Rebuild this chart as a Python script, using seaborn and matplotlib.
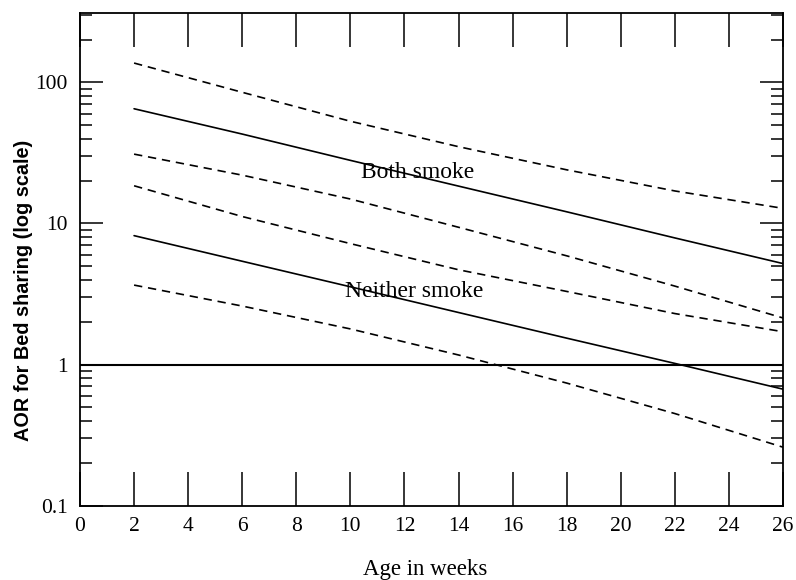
import numpy as np
import pandas as pd
import matplotlib
matplotlib.use('Agg')
import matplotlib.pyplot as plt
import seaborn as sns
from matplotlib.ticker import LogLocator, FixedLocator, NullFormatter, FuncFormatter

# ---- data ----
weeks = [2, 6, 10, 14, 18, 22, 26]

both_aor = [65, 43, 28, 18.4, 12.1, 7.9, 5.2]
both_upper = [137, 85, 53, 35, 24, 17, 12.8]
both_lower = [31, 22, 14.9, 9.4, 5.9, 3.6, 2.14]

neither_aor = [8.2, 5.4, 3.56, 2.34, 1.54, 1.02, 0.67]
neither_upper = [18.5, 11.2, 7.2, 4.7, 3.3, 2.3, 1.71]
neither_lower = [3.66, 2.6, 1.79, 1.17, 0.74, 0.45, 0.26]

x_ticks = list(range(0, 27, 2))
y_ticks = [0.1, 1, 10, 100]
y_ticklabels = ['0.1', '1', '10', '100']

# long-form table for seaborn
rows = []
curves = [
    ('both_aor', 'estimate', both_aor),
    ('both_upper', 'ci', both_upper),
    ('both_lower', 'ci', both_lower),
    ('neither_aor', 'estimate', neither_aor),
    ('neither_upper', 'ci', neither_upper),
    ('neither_lower', 'ci', neither_lower),
]
for name, kind, vals in curves:
    for w, v in zip(weeks, vals):
        rows.append({'week': w, 'aor': v, 'curve': name, 'kind': kind})
df = pd.DataFrame(rows)

sns.set_style('ticks')
serif = ['Liberation Serif', 'DejaVu Serif']
sans = ['Liberation Sans', 'DejaVu Sans']
plt.rcParams['font.family'] = serif
for key in ['text.color', 'axes.labelcolor', 'xtick.color', 'ytick.color', 'axes.edgecolor']:
    plt.rcParams[key] = 'black'

fig = plt.figure(figsize=(7.96, 5.8), dpi=100)
ax = fig.add_axes([0.1005, 0.128, 0.8832, 0.8496])

sns.lineplot(data=df, x='week', y='aor', units='curve', style='kind',
             estimator=None, color='black', linewidth=1.2,
             dashes={'estimate': '', 'ci': (5, 3.5)}, legend=False, ax=ax)

ax.axhline(1, color='black', linewidth=1.5)

ax.set_yscale('log')
ax.set_xlim(0, 26)
ax.set_ylim(0.1, 310)

ax.xaxis.set_major_locator(FixedLocator(x_ticks))
ax.set_xticklabels([str(t) for t in x_ticks])
ax.yaxis.set_major_locator(FixedLocator(y_ticks))
ax.yaxis.set_major_formatter(FuncFormatter(lambda v, p: y_ticklabels[y_ticks.index(v)] if v in y_ticks else ''))
ax.yaxis.set_minor_locator(LogLocator(base=10, subs=np.arange(2, 10)))
ax.yaxis.set_minor_formatter(NullFormatter())

ax.tick_params(axis='x', which='major', direction='in', top=True, bottom=True,
               length=24.5, width=1.1, pad=8, labelsize=15.5, colors='black')
ax.tick_params(axis='y', which='major', direction='in', left=True, right=True,
               length=16.5, width=1.1, pad=9, labelsize=15.5, colors='black')
ax.tick_params(axis='y', which='minor', direction='in', left=True, right=True,
               length=8.6, width=1.1, colors='black')

for s in ax.spines.values():
    s.set_linewidth(1.3)
    s.set_color('black')

ax.set_xlabel('Age in weeks', fontsize=16.5, family=serif, color='black')
ax.xaxis.set_label_coords(0.491, -0.108)
ax.set_ylabel('AOR for Bed sharing (log scale)', fontsize=14.3, fontweight='bold',
              family=sans, color='black')
ax.yaxis.set_label_coords(-0.067, 0.438)

ax.text(12.48, 22.9, 'Both smoke', ha='center', va='center', fontsize=17,
        family=serif, color='black')
ax.text(12.35, 3.28, 'Neither smoke', ha='center', va='center', fontsize=17,
        family=serif, color='black')

fig.savefig('out.png', dpi=100)
